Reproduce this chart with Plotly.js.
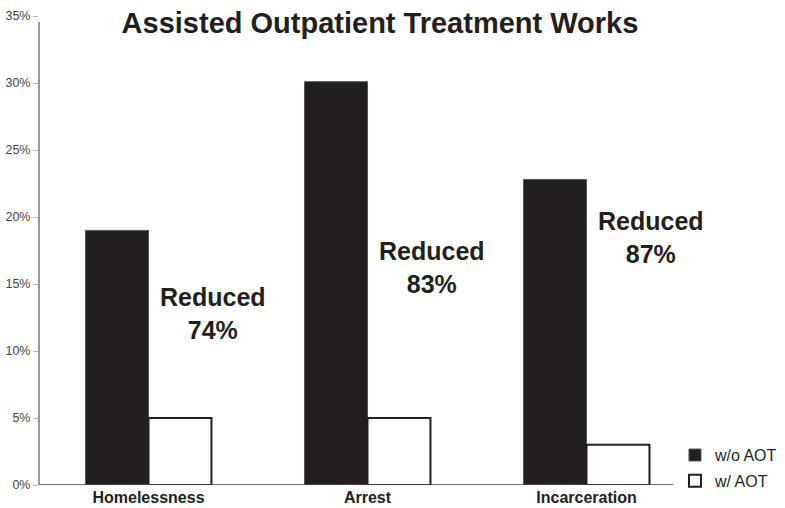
<!DOCTYPE html>
<html>
<head>
<meta charset="utf-8">
<script src="https://cdn.plot.ly/plotly-3.0.1.min.js"></script>
<style>html,body{margin:0;padding:0;background:#fff;}#chart{width:785px;height:508px;}</style>
</head>
<body>
<div id="chart"></div>
<script>
var categories = ["Homelessness", "Arrest", "Incarceration"];
var withoutAOT = [19, 30.1, 22.8];
var withAOT = [5, 5, 3];
var reductionLabels = ["Reduced<br>74%", "Reduced<br>83%", "Reduced<br>87%"];
var reductionY = [12.8, 16.2, 18.5];
var yTicks = [0, 5, 10, 15, 20, 25, 30, 35];

var FONT = "Liberation Sans, Arial, Helvetica, sans-serif";

var traces = [
  {
    type: "bar", name: "w/o AOT", x: categories, y: withoutAOT, legendgroup: "a",
    marker: {color: "#231f20", line: {color: "#555", width: 1}},
    hoverinfo: "skip"
  },
  {
    type: "bar", name: "w/ AOT", x: categories, y: withAOT, legendgroup: "b",
    marker: {color: "#ffffff", line: {color: "#231f20", width: 2}},
    hoverinfo: "skip"
  }
];

var annotations = categories.map(function (c, i) {
  return {
    x: i + 0.295, y: reductionY[i], xref: "x", yref: "y",
    text: "<b>" + reductionLabels[i] + "</b>", showarrow: false,
    font: {family: FONT, size: 25, color: "#231f20"},
    align: "center", xanchor: "center", yanchor: "middle"
  };
});

var layout = {
  width: 785, height: 508,
  margin: {l: 39, r: 89, t: 16, b: 23, autoexpand: false},
  paper_bgcolor: "#fff", plot_bgcolor: "#fff",
  font: {family: FONT, color: "#231f20"},
  title: {
    text: "<b>Assisted Outpatient Treatment Works</b>",
    font: {family: FONT, size: 29, color: "#231f20"},
    x: 0.519, xanchor: "center", xref: "paper", y: 0.955, yanchor: "middle"
  },
  barmode: "group", bargap: 0.425, bargroupgap: 0,
  xaxis: {
    type: "category", range: [-0.5, 2.5],
    showline: false, ticks: "", showgrid: false, zeroline: false,
    tickfont: {family: FONT, size: 16, color: "#231f20", weight: "bold"},
    ticklabelstandoff: 1
  },
  yaxis: {
    range: [0, 35], tickvals: yTicks, ticktext: yTicks.map(function (v) { return v + "%"; }),
    showline: false,
    ticks: "outside", ticklen: 5, tickcolor: "#bbb",
    showgrid: false, zeroline: false,
    tickfont: {family: FONT, size: 12.5, color: "#444"}
  },
  shapes: [
    {type: "line", xref: "paper", yref: "y", x0: 0, x1: 0, y0: 0, y1: 34.55,
     line: {color: "#777", width: 1.5}},
    {type: "line", xref: "paper", yref: "y", x0: 0, x1: 0.965, y0: 0, y1: 0,
     line: {color: "#444", width: 1.5}}
  ],
  showlegend: true,
  legend: {
    x: 0.968, xanchor: "left", y: 0.1, yanchor: "top",
    font: {family: FONT, size: 16, color: "#231f20"},
    bgcolor: "rgba(0,0,0,0)", itemwidth: 30, tracegroupgap: 2
  },
  annotations: annotations
};

Plotly.newPlot("chart", traces, layout, {displayModeBar: false, staticPlot: true});
</script>
</body>
</html>
